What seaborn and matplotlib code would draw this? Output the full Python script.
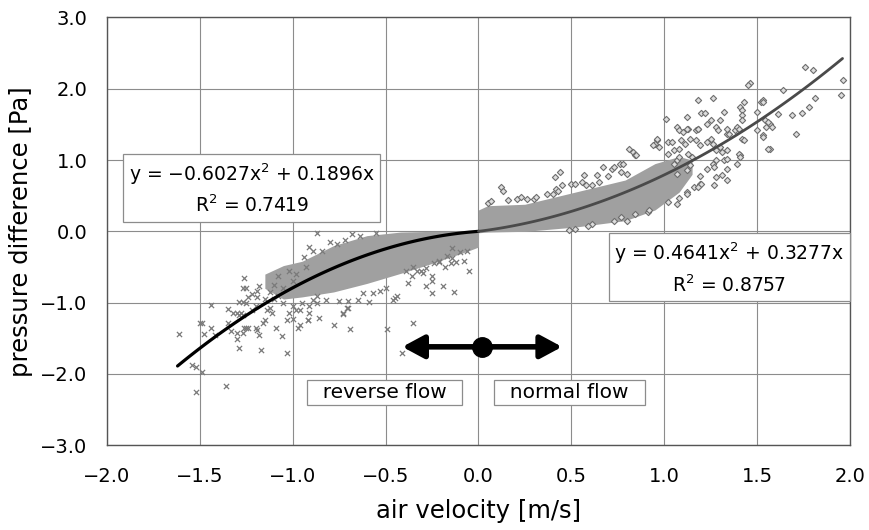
import numpy as np
import pandas as pd
import matplotlib.pyplot as plt
import seaborn as sns
from matplotlib.ticker import MultipleLocator

sns.set_style("white")
plt.rcParams['font.family'] = ['DejaVu Sans']
plt.rcParams['text.color'] = 'black'
plt.rcParams['axes.labelcolor'] = 'black'
plt.rcParams['xtick.color'] = 'black'
plt.rcParams['ytick.color'] = 'black'

# dense core of measurements (upper / lower edge of the cloud)
core_neg_x = [-1.15, -1.05, -0.95, -0.78, -0.60, -0.42, -0.25, -0.06, 0.0]
core_neg_hi = [-0.60, -0.48, -0.42, -0.20, -0.06, -0.01, 0.00, 0.00, 0.00]
core_neg_lo = [-0.80, -0.95, -0.92, -0.85, -0.73, -0.59, -0.45, -0.28, -0.22]

core_pos_x = [0.0, 0.05, 0.25, 0.52, 0.79, 0.95, 1.08, 1.15]
core_pos_hi = [0.30, 0.36, 0.38, 0.55, 0.72, 0.95, 1.05, 1.00]
core_pos_lo = [-0.02, -0.01, 0.00, 0.06, 0.15, 0.30, 0.55, 0.80]

# scattered points, reverse flow
rev_x = [-1.26, -1.27, -1.25, -1.18, -1.19, -1.24, -1.19, -1.29, -1.27, -1.25, -1.44, -1.35,
         -1.30, -1.28, -1.27, -1.32, -1.29, -1.49, -1.44, -1.48, -1.61, -1.42, -1.35, -1.33,
         -1.30, -1.27, -1.26, -1.25, -1.24, -1.30, -1.29, -1.20, -1.19, -1.18, -1.17, -1.09,
         -1.06, -1.03, -1.54, -1.52, -1.49, -1.52, -1.36, -1.03, -1.00, -0.97, -0.92, -0.91,
         -0.86, -0.89, -0.87, -1.12, -1.11, -1.14, -1.15, -1.16, -1.02, -0.98, -0.95, -0.91,
         -0.82, -0.87, -1.50, -0.78, -0.69, -0.49, -0.35, -0.41, -0.73, -0.71, -0.59, -0.45,
         -0.25, -0.28, -0.25, -0.05, -0.13, -0.19, -0.25, -0.30, -0.33, -0.38, -0.36, -0.44,
         -0.46, -0.50, -0.53, -0.57, -0.62, -0.65, -0.70, -0.75, -0.70, -0.73, -0.96, -0.92,
         -0.14, -0.12, -0.08, -0.18, -0.15, -0.21, -0.87, -0.91, -0.89, -0.94, -0.84, -0.76,
         -0.64, -0.17, -0.21, -0.24, -0.28, -0.31, -0.35, -0.39, -0.06, -0.10, -0.14, -1.22,
         -1.12, -1.08, -1.05, -1.10, -1.15, -1.20, -1.22, -1.00, -0.96, -1.05, -1.10, -1.00,
         -0.98, -1.02, -1.08, -0.93, -0.55, -0.72, -0.80, -0.68]
rev_y = [-0.65, -0.79, -0.79, -0.77, -0.83, -0.92, -0.92, -0.99, -0.99, -1.01, -1.04, -1.09,
         -1.14, -1.15, -1.18, -1.15, -1.18, -1.28, -1.36, -1.44, -1.44, -1.46, -1.29, -1.40,
         -1.43, -1.42, -1.36, -1.35, -1.36, -1.51, -1.64, -1.36, -1.39, -1.46, -1.67, -1.35,
         -1.47, -1.70, -1.87, -1.91, -1.98, -2.26, -2.17, -1.25, -1.23, -1.35, -1.25, -1.15,
         -1.21, -0.97, -1.00, -1.07, -1.15, -1.11, -1.25, -1.28, -1.15, -1.11, -1.01, -1.05,
         -0.97, -0.90, -1.28, -1.32, -1.37, -1.37, -1.28, -1.71, -1.15, -1.07, -0.99, -0.94,
         -0.87, -0.76, -0.69, -0.56, -0.85, -0.77, -0.63, -0.59, -0.55, -0.73, -0.63, -0.90,
         -0.97, -0.79, -0.83, -0.86, -0.87, -0.97, -0.98, -0.98, -1.07, -1.16, -1.32, -1.24,
         -0.38, -0.43, -0.41, -0.50, -0.45, -0.43, -0.03, -0.22, -0.27, -0.36, -0.27, -0.18,
         -0.07, -0.34, -0.41, -0.45, -0.52, -0.55, -0.50, -0.55, -0.27, -0.29, -0.24, -0.88,
         -0.85, -0.90, -1.00, -0.95, -0.95, -1.05, -1.10, -1.05, -1.10, -0.80, -0.75, -0.70,
         -0.60, -0.55, -0.62, -0.50, -0.03, -0.12, -0.15, -0.04]

# scattered points, normal flow
nor_x = [0.12, 0.13, 0.05, 0.07, 0.16, 0.21, 0.23, 0.26, 0.30, 0.31, 0.37, 0.40, 0.41, 0.44,
         0.42, 0.45, 0.43, 0.50, 0.52, 0.56, 0.57, 0.58, 0.61, 0.64, 0.67, 0.65, 0.70, 0.72,
         0.73, 0.76, 0.78, 0.77, 0.80, 0.83, 0.84, 0.81, 0.85, 0.61, 0.59, 0.52, 0.49, 0.73,
         0.77, 0.84, 0.91, 0.92, 0.80, 0.96, 0.97, 1.01, 1.02, 1.04, 1.07, 1.02, 1.07, 1.07,
         1.12, 1.08, 1.13, 1.17, 1.18, 1.18, 1.20, 1.22, 1.26, 1.23, 1.25, 1.28, 1.30, 1.32,
         1.34, 1.35, 1.38, 1.39, 1.41, 1.43, 1.42, 1.42, 1.46, 1.45, 1.42, 1.41, 1.43, 1.52,
         1.50, 1.53, 1.53, 1.57, 1.54, 1.55, 1.57, 1.64, 1.61, 1.69, 1.74, 1.71, 1.78, 1.81,
         1.76, 1.80, 1.96, 1.95, 1.30, 1.32, 1.28, 1.23, 1.26, 1.19, 1.16, 1.12, 1.08, 1.12,
         1.10, 1.18, 1.12, 1.29, 1.34, 1.40, 1.42, 1.50, 1.53, 1.53, 1.56, 1.58, 1.56, 0.96,
         0.95, 0.94, 1.09, 1.11, 1.14, 1.17, 1.19, 1.23, 1.25, 1.26, 1.28, 1.31, 1.34, 1.34,
         1.40, 1.41, 1.39, 1.34, 1.27, 1.28, 1.31, 1.27, 1.34, 1.19, 1.20, 1.18, 1.14, 1.12,
         1.15, 1.13, 1.05, 1.07, 1.08, 1.02, 1.05, 1.08]
nor_y = [0.62, 0.56, 0.40, 0.42, 0.44, 0.45, 0.48, 0.45, 0.46, 0.48, 0.53, 0.53, 0.76, 0.83,
         0.60, 0.65, 0.57, 0.67, 0.67, 0.69, 0.79, 0.65, 0.65, 0.79, 0.90, 0.69, 0.78, 0.88,
         0.90, 0.95, 0.95, 0.83, 0.81, 1.11, 1.07, 1.16, 1.07, 0.10, 0.08, 0.03, 0.02, 0.14,
         0.20, 0.24, 0.27, 0.30, 0.15, 1.28, 1.18, 1.57, 1.25, 1.25, 0.81, 0.41, 0.39, 1.46,
         1.60, 1.42, 1.44, 1.42, 1.44, 1.84, 1.66, 1.66, 1.87, 1.51, 1.56, 1.46, 1.56, 1.67,
         1.37, 1.37, 1.42, 1.46, 1.74, 1.81, 1.70, 1.63, 2.08, 2.05, 1.30, 1.07, 1.28, 1.81,
         1.67, 1.84, 1.35, 1.16, 1.56, 1.46, 1.51, 1.98, 1.65, 1.63, 1.66, 1.37, 1.74, 1.87,
         2.30, 2.26, 2.12, 1.91, 1.18, 1.00, 1.00, 0.88, 0.95, 0.67, 0.62, 0.55, 0.47, 0.53,
         1.40, 1.43, 1.43, 1.42, 1.44, 1.44, 1.56, 1.42, 1.33, 1.82, 1.53, 1.46, 1.16, 1.29,
         1.23, 1.21, 1.28, 1.23, 1.30, 1.28, 1.21, 1.25, 1.29, 1.23, 1.14, 1.11, 1.14, 1.02,
         1.09, 1.04, 0.95, 0.88, 0.90, 0.76, 0.79, 0.65, 0.72, 0.77, 0.67, 0.62, 0.93, 0.86,
         1.04, 1.09, 0.95, 1.00, 1.04, 1.09, 1.14, 1.16]

# quadratic trendlines (coefficients as printed on the chart) and their x ranges
neg_coef = [-0.6027, 0.1896, 0.0]
neg_range = [-1.62, 0.0]
pos_coef = [0.4641, 0.3277, 0.0]
pos_range = [0.0, 1.96]

fig = plt.figure(figsize=(8.69, 5.30), dpi=100)
ax = fig.add_axes([0.1231, 0.160, 0.8550, 0.807])

ax.fill_between(core_neg_x, core_neg_lo, core_neg_hi, color='#a0a0a0', lw=0, zorder=2)
ax.fill_between(core_pos_x, core_pos_lo, core_pos_hi, color='#a0a0a0', lw=0, zorder=2)

rev = pd.DataFrame({'v': rev_x, 'dp': rev_y})
nor = pd.DataFrame({'v': nor_x, 'dp': nor_y})
sns.scatterplot(data=rev, x='v', y='dp', marker='x', s=14, color='#7a7a7a',
                linewidth=0.9, ax=ax, zorder=3)
sns.scatterplot(data=nor, x='v', y='dp', marker='D', s=10, facecolor='#dedede',
                edgecolor='#6e6e6e', linewidth=0.8, ax=ax, zorder=3)

xn = np.linspace(neg_range[0], neg_range[1], 120)
xp = np.linspace(pos_range[0], pos_range[1], 120)
sns.lineplot(x=xn, y=np.polyval(neg_coef, xn), color='black', lw=2.3, ax=ax, zorder=4)
sns.lineplot(x=xp, y=np.polyval(pos_coef, xp), color='#4a4a4a', lw=2.0, ax=ax, zorder=4)

ax.set_xlim(-2.0, 2.0)
ax.set_ylim(-3.0, 3.0)
ax.xaxis.set_major_locator(MultipleLocator(0.5))
ax.yaxis.set_major_locator(MultipleLocator(1.0))
ax.xaxis.set_minor_locator(MultipleLocator(0.1))
ax.yaxis.set_minor_locator(MultipleLocator(0.2))
ax.xaxis.set_major_formatter(lambda v, p: f'{v:.1f}'.replace('-', '\u2212'))
ax.yaxis.set_major_formatter(lambda v, p: f'{v:.1f}'.replace('-', '\u2212'))
ax.grid(True, which='major', color='#8c8c8c', lw=0.8, zorder=1)
ax.set_axisbelow(True)
ax.tick_params(which='both', direction='in', top=False, right=False, labelsize=14)
ax.tick_params(which='major', length=0)
ax.tick_params(axis='x', which='major', pad=16)
ax.tick_params(axis='y', which='major', pad=14)
ax.tick_params(which='minor', length=4, width=0.8, color='#555555')
for sp in ax.spines.values():
    sp.set_color('#555555')
    sp.set_linewidth(1.0)

ax.set_xlabel('air velocity [m/s]', fontsize=17.5, labelpad=9)
ax.set_ylabel('pressure difference [Pa]', fontsize=17.5, labelpad=5)

box = dict(boxstyle='square,pad=0.3', fc='white', ec='#8c8c8c', lw=0.9)
ax.text(-1.22, 0.60, 'y = \u22120.6027x$^{2}$ + 0.1896x\nR$^{2}$ = 0.7419', ha='center',
        va='center', fontsize=13.5, linespacing=1.45, bbox=box, zorder=6)
ax.text(1.35, -0.52, 'y = 0.4641x$^{2}$ + 0.3277x\nR$^{2}$ = 0.8757', ha='center',
        va='center', fontsize=13.5, linespacing=1.45, bbox=box, zorder=6)

box2 = dict(boxstyle='square,pad=0.15', fc='white', ec='#8c8c8c', lw=0.9)
ax.text(-0.505, -2.26, '  reverse flow  ', ha='center', va='center', fontsize=14.5,
        bbox=box2, zorder=6)
ax.text(0.49, -2.26, '  normal flow  ', ha='center', va='center', fontsize=14.5,
        bbox=box2, zorder=6)

ax.annotate('', xy=(0.45, -1.62), xytext=(-0.41, -1.62),
            arrowprops=dict(arrowstyle='<|-|>,head_length=1.3,head_width=0.7',
                            lw=4, color='black', shrinkA=0, shrinkB=0), zorder=6)
ax.plot([0.02], [-1.62], 'o', ms=14, color='black', zorder=7)

fig.savefig('out.png', dpi=100)
